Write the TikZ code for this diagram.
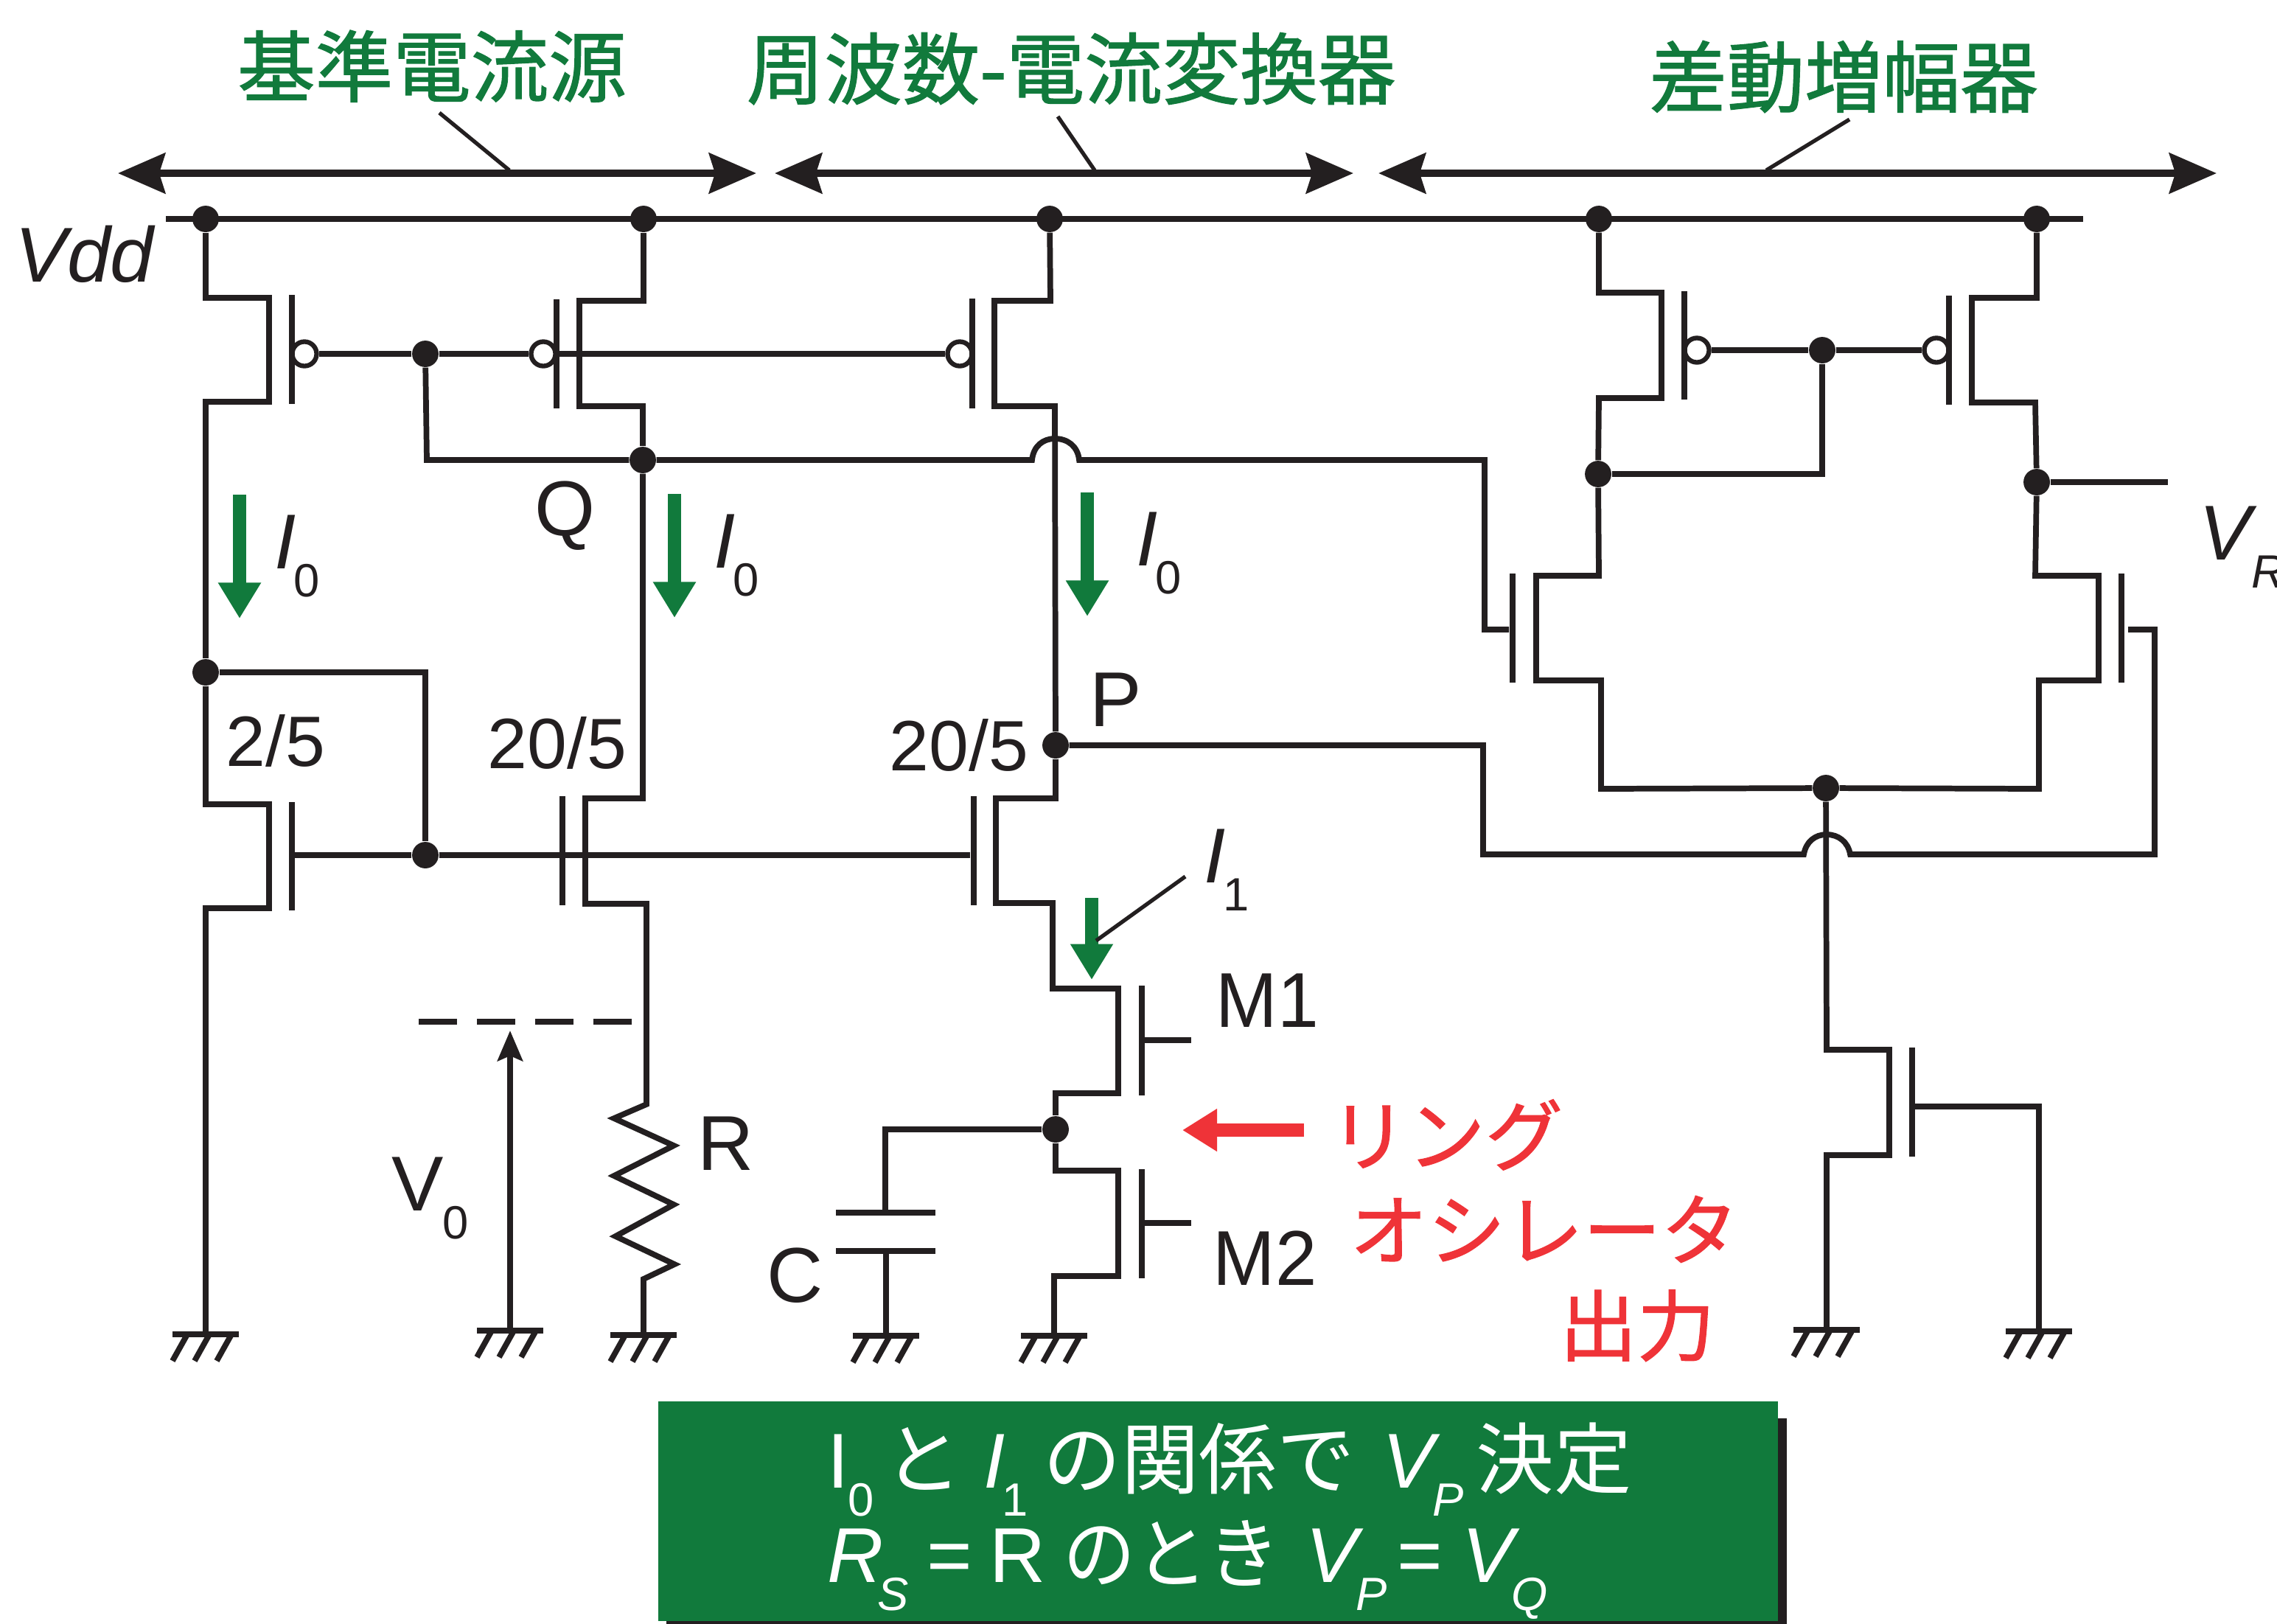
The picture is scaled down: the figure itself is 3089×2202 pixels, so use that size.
\documentclass[tikz,border=0pt]{standalone}
\usepackage{graphicx}
\usepackage{fontspec}
\setmainfont{Liberation Sans}
\newfontfamily\cjk{Noto Sans CJK JP}
\newfontfamily\cjkheavy[FakeBold=1.2]{Noto Sans CJK JP}
\usetikzlibrary{arrows.meta}

\definecolor{inkblack}{HTML}{231F20}
\definecolor{leafgreen}{HTML}{117A3C}
\definecolor{alertred}{HTML}{EF3338}

\newcommand{\lowsub}[1]{\raisebox{-11pt}{\fontsize{18pt}{18pt}\selectfont #1}}

\tikzset{
  wire/.style={draw=inkblack, line width=2.2pt},
  rail/.style={draw=inkblack, line width=2.4pt},
  leader/.style={draw=inkblack, line width=1.5pt},
  dot/.style={circle, fill=inkblack, inner sep=0pt, minimum size=10.2pt},
  bubble/.style={circle, draw=inkblack, fill=white, line width=1.8pt, inner sep=0pt, minimum size=9.4pt},
  busarrow/.style={draw=inkblack, line width=2.8pt, <->,
    >={Stealth[length=18.2pt, width=15.5pt, inset=2.3pt]}},
  flowarrow/.style={draw=leafgreen, line width=5pt, -{Triangle[length=13.8pt, width=15.6pt, fill=leafgreen]}},
  redarrow/.style={draw=alertred, line width=5.3pt, -{Triangle[length=13.4pt, width=15.6pt, fill=alertred]}},
  voltarrow/.style={draw=inkblack, line width=2.2pt, -{Stealth[length=11.7pt, width=9.7pt, inset=2pt]}},
  lbl/.style={inner sep=0pt, anchor=base west, text=inkblack, font=\fontsize{30pt}{36pt}\selectfont},
  num/.style={lbl, font=\fontsize{27.5pt}{34pt}\selectfont},
  title/.style={inner sep=0pt, anchor=base, text=leafgreen, font=\fontsize{30pt}{36pt}\selectfont\cjkheavy},
  oscout/.style={title, text=alertred},
  gnd/.pic={
    \draw[wire] (-45,0) -- (45,0);
    \foreach \dx in {-26,4,34}
      \draw[wire] (\dx,2) -- ++(-19,34);
  },
}

\begin{document}
\begin{tikzpicture}[x=0.01cm, y=-0.01cm]
    \useasboundingbox (0,0) rectangle (3089,2202);

    % titles and their ranges
    \node[title] (refsrc) at (586,130) {基準電流源};
    \node[title] (fconv) at (1453,133) {周波数-電流変換器};
    \node[title] (diffamp) at (2501,144) {差動増幅器};
    \coordinate (busAl) at (160,235);
    \coordinate (busAr) at (1026,235);
    \coordinate (busBl) at (1051,235);
    \coordinate (busBr) at (1836,235);
    \coordinate (busCl) at (1870,235);
    \coordinate (busCr) at (3007,235);
    \draw[busarrow] (busAl) -- (busAr);
    \draw[busarrow] (busBl) -- (busBr);
    \draw[busarrow] (busCl) -- (busCr);
    \draw[leader] (596,153) -- (691,231);
    \draw[leader] (1435,158) -- (1485,231);
    \draw[leader] (2509,162) -- (2396,231);

    % junctions
    \node[dot] (railA) at (279,297) {};
    \node[dot] (railB) at (873,297) {};
    \node[dot] (railC) at (1424,297) {};
    \node[dot] (railD) at (2169,297) {};
    \node[dot] (railE) at (2763,297) {};
    \node[dot] (gateA) at (577,480) {};
    \node[dot] (gateM) at (2472,475) {};
    \node[dot] (Qdot) at (872,624) {};
    \node[dot] (midA) at (279,912) {};
    \node[dot] (Pdot) at (1432,1011) {};
    \node[dot] (gateN) at (577,1160) {};
    \node[dot] (oscdot) at (1432,1532) {};
    \node[dot] (drainL) at (2168,643) {};
    \node[dot] (drainR) at (2763,654) {};
    \node[dot] (tailD) at (2477,1069) {};
    \node[bubble] (bubbleA) at (413,480) {};
    \node[bubble] (bubbleB) at (737,480) {};
    \node[bubble] (bubbleC) at (1302,480) {};
    \node[bubble] (bubbleD) at (2302,475) {};
    \node[bubble] (bubbleE) at (2627,475) {};

    \foreach \gname/\gx/\gy in {gndA/279/1810, gndB/692/1805, gndC/873/1811, gndD/1202/1812,
        gndE/1430/1812, gndF/2478/1804, gndG/2766/1806} {
      \coordinate (\gname) at (\gx,\gy);
      \pic at (\gname) {gnd};
    }

    % supply rail
    \coordinate (railL) at (225,297);
    \coordinate (railR) at (2826,297);
    \draw[rail] (railL) -- (railR);

    % reference branch
    \draw[wire] (railA) -- (279,404) -- (365,404) -- (365,545) -- (279,545) -- (midA);
    \draw[wire] (midA) -- (279,1091) -- (365,1091) -- (365,1232) -- (279,1232) -- (gndA);
    \draw[wire] (396,400) -- (396,548);
    \draw[wire] (396,1088) -- (396,1235);
    \draw[wire] (bubbleA) -- (gateA) -- (bubbleB);
    \draw[wire] (755,480) -- (bubbleC);
    \draw[wire] (gateA) -- (579,624) -- (Qdot);
    \draw[wire] (midA) -- (577,912) -- (gateN);
    \draw[wire] (396,1160) -- (gateN) -- (1316,1160);

    % Q branch with R
    \draw[wire] (755,406) -- (755,554);
    \draw[wire] (763,1080) -- (763,1228);
    \draw[wire] (railB) -- (873,408) -- (786,408) -- (786,551) -- (872,551) -- (Qdot);
    \draw[wire] (Qdot) -- (872,1083) -- (794,1083) -- (794,1226) -- (877,1226) -- (877,1498)
      -- (833,1517) -- (914,1554) -- (833,1595) -- (914,1634) -- (835,1677) -- (915,1715)
      -- (873,1735) -- (gndC);
    \draw[draw=inkblack, line width=2.5pt, dash pattern=on 14.8pt off 7.7pt] (568,1386) -- (857,1386);
    \draw[voltarrow] (gndB) -- (692,1398);

    % P branch, M1, M2 and C
    \draw[wire] (1319,405) -- (1319,554);
    \draw[wire] (1321,1080) -- (1321,1228);
    \draw[wire] (railC) -- (1425,408) -- (1349,408) -- (1349,551) -- (1431,551) -- (Pdot);
    \draw[wire] (Pdot) -- (1432,1083) -- (1351,1083) -- (1351,1225) -- (1428,1225) -- (1428,1341)
      -- (1517,1341) -- (1517,1483) -- (1432,1483) -- (oscdot);
    \draw[wire] (oscdot) -- (1432,1588) -- (1517,1588) -- (1517,1731) -- (1430,1731) -- (gndE);
    \draw[wire] (1549,1337) -- (1549,1486);
    \draw[wire] (1549,1411) -- (1616,1411);
    \draw[wire] (1549,1586) -- (1549,1734);
    \draw[wire] (1549,1659) -- (1616,1659);
    \draw[wire] (oscdot) -- (1201,1532) -- (1201,1645);
    \draw[wire] (1134,1645) -- (1269,1645);
    \draw[wire] (1134,1697) -- (1269,1697);
    \draw[wire] (1202,1697) -- (gndD);

    % Q wire and P wire over to the amplifier
    \draw[wire] (Qdot) -- (1400,624) .. controls (1402,605) and (1415,595) .. (1431,595)
      .. controls (1448,595) and (1462,605) .. (1464,624) -- (2014,624) -- (2014,854) -- (2047,854);
    \draw[wire] (Pdot) -- (2012,1011) -- (2012,1159) -- (2447,1159)
      .. controls (2450,1142) and (2462,1132) .. (2478,1132)
      .. controls (2494,1132) and (2507,1142) .. (2510,1159) -- (2923,1159) -- (2923,854) -- (2887,854);

    % differential amplifier
    \draw[wire] (2285,395) -- (2285,542);
    \draw[wire] (2644,401) -- (2644,549);
    \draw[wire] (2052,778) -- (2052,926);
    \draw[wire] (2878,778) -- (2878,926);
    \draw[wire] (bubbleD) -- (gateM) -- (bubbleE);
    \draw[wire] (gateM) -- (2472,643) -- (drainL);
    \draw[wire] (railD) -- (2169,397) -- (2254,397) -- (2254,540) -- (2169,540) -- (drainL);
    \draw[wire] (drainL) -- (2169,781) -- (2084,781) -- (2084,923) -- (2172,923) -- (2172,1070) -- (tailD);
    \draw[wire] (tailD) -- (2766,1070) -- (2766,923) -- (2847,923) -- (2847,781) -- (2761,781) -- (drainR);
    \draw[wire] (drainR) -- (2761,546) -- (2675,546) -- (2675,404) -- (2763,404) -- (railE);
    \coordinate (voutEnd) at (2941,654);
    \draw[wire] (drainR) -- (voutEnd);
    \draw[wire] (tailD) -- (2478,1424) -- (2563,1424) -- (2563,1567) -- (2478,1567) -- (gndF);
    \draw[wire] (2594,1421) -- (2594,1569);
    \draw[wire] (2594,1501) -- (2766,1501) -- (gndG);

    % currents
    \draw[flowarrow] (325,671) -- (325,839);
    \draw[flowarrow] (915,670) -- (915,838);
    \draw[flowarrow] (1475,668) -- (1475,836);
    \draw[flowarrow] (1481,1218) -- (1481,1329);
    \draw[leader] (1608,1189) -- (1487,1276);
    \draw[redarrow] (1769,1533) -- (1604,1533);

    % labels
    \node[lbl] (vddlbl) at (20,382) {\itshape Vdd};
    \node[lbl] (vrlbl) at (2983,759) {\itshape V\lowsub{R}};
    \node[lbl] (qlbl) at (725,726) {Q};
    \node[lbl] (plbl) at (1478,985) {P};
    \node[lbl] (iA) at (372,771) {\itshape I\kern-1pt\lowsub{\upshape 0}};
    \node[lbl] (iB) at (968,770) {\itshape I\kern-1pt\lowsub{\upshape 0}};
    \node[lbl] (iC) at (1541,767) {\itshape I\kern-1pt\lowsub{\upshape 0}};
    \node[lbl] (iD) at (1633,1197) {\itshape I\kern-1pt\lowsub{\upshape 1}};
    \node[num] (sizeA) at (306,1039) {2/5};
    \node[num] (sizeB) at (661,1042) {20/5};
    \node[num] (sizeC) at (1206,1045) {20/5};
    \node[lbl] (vzero) at (531,1642) {V\kern-0.5pt\lowsub{0}};
    \node[lbl] (rlbl) at (946,1587) {R};
    \node[lbl] (clbl) at (1040,1766) {C};
    \node[lbl] (mone) at (1649,1393) {\scalebox{.95}[1]{M1}};
    \node[lbl] (mtwo) at (1645,1743) {\scalebox{.96}[1]{M2}};
    \node[oscout] (ring) at (1962,1580) {リング};
    \node[oscout] (osc) at (2095,1708) {オシレータ};
    \node[oscout] (outp) at (2221,1838) {出力};

    % result box
    \node[fill=inkblack, inner sep=0pt, minimum width=15.2cm, minimum height=2.79cm] (resultshadow) at (1664,2063.5) {};
    \node[fill=leafgreen, inner sep=0pt, minimum width=15.19cm, minimum height=2.98cm] (resultbox) at (1652.5,2050) {};
    \node[lbl, text=white] (resultA) at (1122,2018) {I\kern-0.5pt\lowsub{0}\kern4pt{\cjk と}\kern8.5pt{\itshape I}\kern-1.4pt\lowsub{1}\kern6pt{\cjk の関係で}\kern10.8pt{\itshape V}\kern-0.8pt\lowsub{\itshape P}\kern5pt{\cjk 決定}};
    \node[lbl, text=white] (resultB) at (1122,2146) {{\itshape R}\kern-2.3pt\lowsub{\itshape S}\kern7pt=\kern6.5pt R\kern6.8pt\scalebox{.93}[1]{\cjk のとき}\kern10pt{\itshape V}\kern-0.8pt\lowsub{\itshape P}\kern4pt=\kern7.4pt{\itshape V}\kern-0.8pt\lowsub{\itshape Q}};

\end{tikzpicture}
\end{document}
